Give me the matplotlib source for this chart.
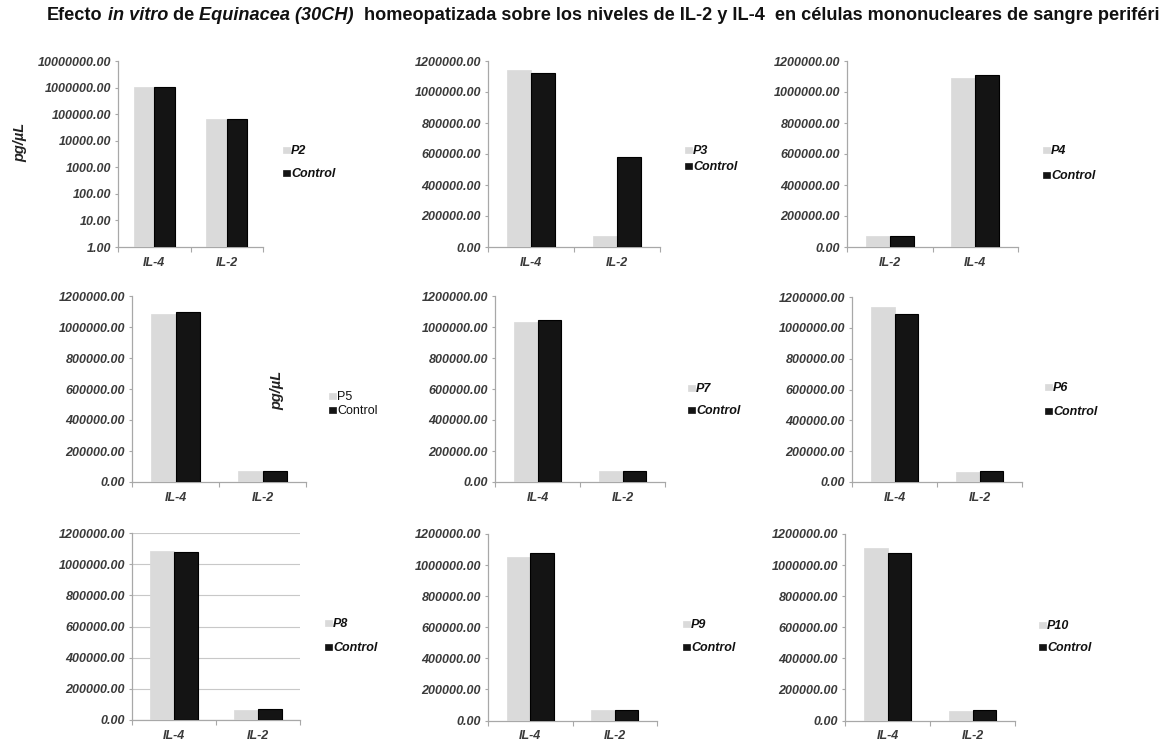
import matplotlib
matplotlib.use("Agg")
import matplotlib.pyplot as plt
from matplotlib.patches import Rectangle
from matplotlib.ticker import FixedLocator, FuncFormatter, NullFormatter

plt.rcParams['font.family'] = ['Liberation Sans', 'DejaVu Sans']

# ---------------- data ----------------
panel_names = ["P2", "P3", "P4", "P5", "P7", "P6", "P8", "P9", "P10"]
panel_categories = [
    ["IL-4", "IL-2"], ["IL-4", "IL-2"], ["IL-2", "IL-4"],
    ["IL-4", "IL-2"], ["IL-4", "IL-2"], ["IL-4", "IL-2"],
    ["IL-4", "IL-2"], ["IL-4", "IL-2"], ["IL-4", "IL-2"],
]
patient_values = [
    [1060000, 68000], [1140000, 72000], [68000, 1090000],
    [1084000, 69000], [1034000, 69000], [1133000, 67000],
    [1085000, 64000], [1050000, 69000], [1108000, 64000],
]
control_values = [
    [1060000, 68000], [1122000, 580000], [72000, 1110000],
    [1099000, 72000], [1045000, 71000], [1090000, 70000],
    [1078000, 70000], [1076000, 69000], [1076000, 69000],
]
control_label = "Control"
log_ticks = [1, 10, 100, 1000, 10000, 100000, 1000000, 10000000]
lin_ticks = [0, 200000, 400000, 600000, 800000, 1000000, 1200000]
unit_label = "pg/µL"
title_parts = [
    ("Efecto", "normal"),
    (" in vitro", "italic"),
    (" de", "normal"),
    (" Equinacea (30CH)", "italic"),
    ("  homeopatizada sobre los niveles de IL-2 y IL-4  en células mononucleares de sangre periféri", "normal"),
]

# ---------------- layout (pixels) ----------------
W, H = 1164, 747
fig = plt.figure(figsize=(W / 100, H / 100), dpi=100)
fig.patch.set_facecolor("white")

axes_px = [
    (118, 61, 263, 247), (488, 61, 660, 247), (847, 61, 1018, 247),
    (132, 296, 306, 482), (495, 296, 665, 482), (852, 297, 1022, 482),
    (132, 533, 300, 720), (488, 534, 657, 720.5), (845, 534, 1015, 720.5),
]
legend_px = [
    (283, 150, 173), (685, 150, 166), (1043, 150, 175),
    (329, 396, 410), (688, 388, 410), (1045, 387, 411),
    (325, 623, 647), (683, 624, 647), (1039, 625, 647),
]

LIGHT = "#dadada"
DARK = "#141414"
AXC = "#a8a8a8"
TXT = "#3a3a3a"
TICKFS = 9.0


def rect(x0, yt, x1, yb):
    return [x0 / W, 1 - yb / H, (x1 - x0) / W, (yb - yt) / H]


def fx(x):
    return x / W


def fy(y):
    return 1 - y / H


bw = 0.28
for i, name in enumerate(panel_names):
    ax = fig.add_axes(rect(*axes_px[i]))
    cats = panel_categories[i]
    xs = list(range(len(cats)))
    ax.bar([x - bw / 2 for x in xs], patient_values[i], width=bw, color=LIGHT,
           edgecolor=LIGHT, linewidth=0.5, zorder=3)
    ax.bar([x + bw / 2 for x in xs], control_values[i], width=bw, color=DARK,
           edgecolor="#000000", linewidth=0.8, zorder=3)
    ax.set_xlim(-0.5, len(cats) - 0.5)
    if i == 0:
        ax.set_yscale("log")
        ax.set_ylim(log_ticks[0], log_ticks[-1])
        ax.yaxis.set_major_locator(FixedLocator(log_ticks))
        ax.yaxis.set_minor_formatter(NullFormatter())
        ax.yaxis.set_minor_locator(FixedLocator([]))
    else:
        ax.set_ylim(lin_ticks[0], lin_ticks[-1])
        ax.yaxis.set_major_locator(FixedLocator(lin_ticks))
    ax.yaxis.set_major_formatter(FuncFormatter(lambda v, p: f"{v:.2f}"))
    ax.set_xticks(xs)
    ax.set_xticklabels(cats)
    ax.set_xticks([x - 0.5 for x in range(len(cats) + 1)], minor=True)
    for s in ("top", "right"):
        ax.spines[s].set_visible(False)
    for s in ("left", "bottom"):
        ax.spines[s].set_color(AXC)
        ax.spines[s].set_linewidth(0.9)
    ax.tick_params(axis="x", which="major", length=0, pad=7)
    ax.tick_params(axis="x", which="minor", length=3.5, color=AXC, width=0.8)
    ax.tick_params(axis="y", which="major", length=2.5, color=AXC, width=0.8, pad=2.5)
    for lab in ax.get_xticklabels() + ax.get_yticklabels():
        lab.set_fontsize(TICKFS)
        lab.set_fontweight("bold")
        lab.set_fontstyle("italic")
        lab.set_color(TXT)
    if i == 6:
        ax.grid(axis="y", color="#c8c8c8", linewidth=0.8, zorder=0)
    ax.set_facecolor("none")

    # legend
    sx, y1, y2 = legend_px[i]
    sq = 6.5
    italic = "normal" if name == "P5" else "italic"
    weight = "normal" if name == "P5" else "bold"
    for (yy, col, lab) in ((y1, LIGHT, name), (y2, DARK, control_label)):
        fig.patches.append(Rectangle((fx(sx), fy(yy + sq / 2)), sq / W, sq / H,
                                     transform=fig.transFigure, facecolor=col,
                                     edgecolor=col, linewidth=0.5))
        fig.text(fx(sx + sq + 1.5), fy(yy + 1), lab, fontsize=9, fontweight=weight,
                 fontstyle=italic, color="#111111", ha="left", va="center")

# unit labels
fig.text(fx(20), fy(142), unit_label, rotation=90, fontsize=10.5, fontweight="bold",
         fontstyle="italic", color="#222222", ha="center", va="center")
fig.text(fx(277), fy(390), unit_label, rotation=90, fontsize=10.5, fontweight="bold",
         fontstyle="italic", color="#222222", ha="center", va="center")

# title built from pieces
renderer = fig.canvas.get_renderer()
x = 47
for txt, style in title_parts:
    t = fig.text(fx(x), fy(16), txt, fontsize=13.1, fontweight="bold", fontstyle=style,
                 color="#111111", ha="left", va="center")
    bb = t.get_window_extent(renderer)
    x += bb.width

fig.savefig("out.png", dpi=100, facecolor="white")
